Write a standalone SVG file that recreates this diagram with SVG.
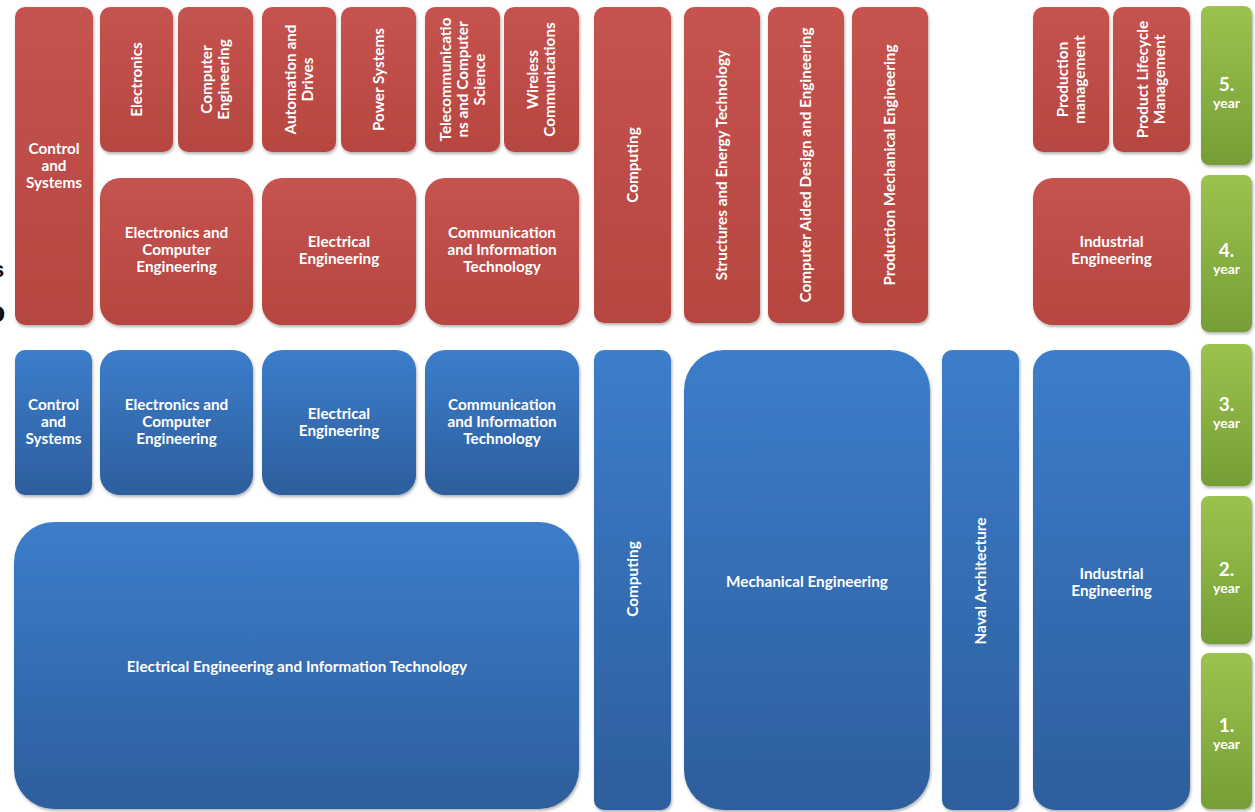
<svg xmlns="http://www.w3.org/2000/svg" width="1255" height="812" viewBox="0 0 1255 812">
  <defs>
    <linearGradient id="gRed" x1="0" y1="0" x2="0" y2="1">
      <stop offset="0" stop-color="#c6534f"/>
      <stop offset="1" stop-color="#b6463f"/>
    </linearGradient>
    <linearGradient id="gBlue" x1="0" y1="0" x2="0" y2="1">
      <stop offset="0" stop-color="#3c7dca"/>
      <stop offset="1" stop-color="#2d5e9d"/>
    </linearGradient>
    <linearGradient id="gGreen" x1="0" y1="0" x2="0" y2="1">
      <stop offset="0" stop-color="#9cc24f"/>
      <stop offset="1" stop-color="#769e36"/>
    </linearGradient>
    <filter id="sh" x="-10%" y="-10%" width="130%" height="130%">
      <feDropShadow dx="1" dy="2" stdDeviation="1.6" flood-color="#000" flood-opacity="0.3"/>
    </filter>
  </defs>
  <style>
    .r { fill: url(#gRed); filter: url(#sh); }
    .b { fill: url(#gBlue); filter: url(#sh); }
    .g { fill: url(#gGreen); filter: url(#sh); }
    text { font-family: Lato, "Liberation Sans", sans-serif; font-weight: 700; fill: #ffffff; text-anchor: middle; }
    .t { font-size: 15.3px; }
    .n { font-size: 19px; }
    .y { font-size: 14px; }
    .frag { fill: #111111; font-family: "Liberation Sans", Arial, sans-serif; text-anchor: start; }
  </style>

  <rect width="1255" height="812" fill="#ffffff"/>

  <!-- cut-off lettering at the left edge -->
  <text class="frag" x="-8" y="277" font-size="22">s</text>
  <text class="frag" x="-13" y="322" font-size="30">o</text>

  <!-- ===== upper years (4th and 5th) ===== -->
  <g id="ctrl-sys-upper">
    <rect class="r" x="15" y="7" width="78" height="318" rx="10"/>
    <text class="t" x="54"><tspan x="54" y="153.5">Control</tspan><tspan x="54" y="170.5">and</tspan><tspan x="54" y="187.5">Systems</tspan></text>
  </g>
  <g id="electronics">
    <rect class="r" x="100" y="7" width="73" height="145" rx="10"/>
    <text class="t" transform="translate(136.5 79.5) rotate(-90)"><tspan x="0" y="5">Electronics</tspan></text>
  </g>
  <g id="computer-eng">
    <rect class="r" x="178" y="7" width="75" height="145" rx="10"/>
    <text class="t" transform="translate(215.5 79.5) rotate(-90)"><tspan x="0" y="-3.5">Computer</tspan><tspan x="0" y="13.5">Engineering</tspan></text>
  </g>
  <g id="automation">
    <rect class="r" x="262" y="7" width="74" height="145" rx="10"/>
    <text class="t" transform="translate(299 79.5) rotate(-90)"><tspan x="0" y="-3.5">Automation and</tspan><tspan x="0" y="13.5">Drives</tspan></text>
  </g>
  <g id="power-systems">
    <rect class="r" x="341" y="7" width="75" height="145" rx="10"/>
    <text class="t" transform="translate(378.5 79.5) rotate(-90)"><tspan x="0" y="5">Power Systems</tspan></text>
  </g>
  <g id="telecom">
    <rect class="r" x="425" y="7" width="75" height="145" rx="10"/>
    <text class="t" transform="translate(462.5 79.5) rotate(-90)"><tspan x="0" y="-12">Telecommunicatio</tspan><tspan x="0" y="5">ns and Computer</tspan><tspan x="0" y="22">Science</tspan></text>
  </g>
  <g id="wireless">
    <rect class="r" x="504" y="7" width="75" height="145" rx="10"/>
    <text class="t" transform="translate(541.5 79.5) rotate(-90)"><tspan x="0" y="-3.5">Wireless</tspan><tspan x="0" y="13.5">Communications</tspan></text>
  </g>
  <g id="ece-upper">
    <rect class="r" x="100" y="178" width="153" height="147" rx="20"/>
    <text class="t"><tspan x="176.5" y="238">Electronics and</tspan><tspan x="176.5" y="255">Computer</tspan><tspan x="176.5" y="272">Engineering</tspan></text>
  </g>
  <g id="ee-upper">
    <rect class="r" x="262" y="178" width="154" height="147" rx="20"/>
    <text class="t"><tspan x="339" y="246.5">Electrical</tspan><tspan x="339" y="263.5">Engineering</tspan></text>
  </g>
  <g id="cit-upper">
    <rect class="r" x="425" y="178" width="154" height="147" rx="20"/>
    <text class="t"><tspan x="502" y="238">Communication</tspan><tspan x="502" y="255">and Information</tspan><tspan x="502" y="272">Technology</tspan></text>
  </g>
  <g id="computing-upper">
    <rect class="r" x="594" y="7" width="77" height="316" rx="10"/>
    <text class="t" transform="translate(632.5 165) rotate(-90)"><tspan x="0" y="5">Computing</tspan></text>
  </g>
  <g id="structures">
    <rect class="r" x="684" y="7" width="76" height="316" rx="10"/>
    <text class="t" transform="translate(722 165) rotate(-90)"><tspan x="0" y="5">Structures and Energy Technology</tspan></text>
  </g>
  <g id="cad">
    <rect class="r" x="768" y="7" width="76" height="316" rx="10"/>
    <text class="t" transform="translate(806 165) rotate(-90)"><tspan x="0" y="5">Computer Aided Design and Engineering</tspan></text>
  </g>
  <g id="production-mech">
    <rect class="r" x="852" y="7" width="76" height="316" rx="10"/>
    <text class="t" transform="translate(890 165) rotate(-90)"><tspan x="0" y="5">Production Mechanical Engineering</tspan></text>
  </g>
  <g id="production-mgmt">
    <rect class="r" x="1033" y="7" width="76" height="145" rx="10"/>
    <text class="t" transform="translate(1071 79.5) rotate(-90)"><tspan x="0" y="-3.5">Production</tspan><tspan x="0" y="13.5">management</tspan></text>
  </g>
  <g id="plm">
    <rect class="r" x="1113" y="7" width="77" height="145" rx="10"/>
    <text class="t" transform="translate(1151.5 79.5) rotate(-90)"><tspan x="0" y="-3.5">Product Lifecycle</tspan><tspan x="0" y="13.5">Management</tspan></text>
  </g>
  <g id="ie-upper">
    <rect class="r" x="1033" y="178" width="157" height="147" rx="20"/>
    <text class="t"><tspan x="1111.5" y="246.5">Industrial</tspan><tspan x="1111.5" y="263.5">Engineering</tspan></text>
  </g>

  <!-- ===== lower years (1st to 3rd) ===== -->
  <g id="ctrl-sys-lower">
    <rect class="b" x="15" y="350" width="77" height="145" rx="10"/>
    <text class="t"><tspan x="53.5" y="410">Control</tspan><tspan x="53.5" y="427">and</tspan><tspan x="53.5" y="444">Systems</tspan></text>
  </g>
  <g id="ece-lower">
    <rect class="b" x="100" y="350" width="153" height="145" rx="20"/>
    <text class="t"><tspan x="176.5" y="410">Electronics and</tspan><tspan x="176.5" y="427">Computer</tspan><tspan x="176.5" y="444">Engineering</tspan></text>
  </g>
  <g id="ee-lower">
    <rect class="b" x="262" y="350" width="154" height="145" rx="20"/>
    <text class="t"><tspan x="339" y="418.5">Electrical</tspan><tspan x="339" y="435.5">Engineering</tspan></text>
  </g>
  <g id="cit-lower">
    <rect class="b" x="425" y="350" width="154" height="145" rx="20"/>
    <text class="t"><tspan x="502" y="410">Communication</tspan><tspan x="502" y="427">and Information</tspan><tspan x="502" y="444">Technology</tspan></text>
  </g>
  <g id="eeit">
    <rect class="b" x="14" y="522" width="565" height="287" rx="40"/>
    <text class="t" x="297" y="672">Electrical Engineering and Information Technology</text>
  </g>
  <g id="computing-lower">
    <rect class="b" x="594" y="350" width="77" height="460" rx="10"/>
    <text class="t" transform="translate(632.5 579) rotate(-90)"><tspan x="0" y="5">Computing</tspan></text>
  </g>
  <g id="mechanical">
    <rect class="b" x="684" y="350" width="246" height="460" rx="40"/>
    <text class="t" x="807" y="587">Mechanical Engineering</text>
  </g>
  <g id="naval">
    <rect class="b" x="942" y="350" width="77" height="460" rx="10"/>
    <text class="t" transform="translate(980.5 581) rotate(-90)"><tspan x="0" y="5">Naval Architecture</tspan></text>
  </g>
  <g id="ie-lower">
    <rect class="b" x="1033" y="350" width="157" height="460" rx="22"/>
    <text class="t"><tspan x="1111.5" y="579">Industrial</tspan><tspan x="1111.5" y="596">Engineering</tspan></text>
  </g>

  <!-- ===== year column ===== -->
  <g id="year5">
    <rect class="g" x="1201" y="6" width="51" height="159" rx="8"/>
    <text class="n" x="1226.5" y="91">5.</text>
    <text class="y" x="1226.5" y="108">year</text>
  </g>
  <g id="year4">
    <rect class="g" x="1201" y="175" width="51" height="157" rx="8"/>
    <text class="n" x="1226.5" y="257">4.</text>
    <text class="y" x="1226.5" y="274">year</text>
  </g>
  <g id="year3">
    <rect class="g" x="1201" y="344" width="51" height="142" rx="8"/>
    <text class="n" x="1226.5" y="411">3.</text>
    <text class="y" x="1226.5" y="428">year</text>
  </g>
  <g id="year2">
    <rect class="g" x="1201" y="496" width="51" height="148" rx="8"/>
    <text class="n" x="1226.5" y="576">2.</text>
    <text class="y" x="1226.5" y="593">year</text>
  </g>
  <g id="year1">
    <rect class="g" x="1201" y="653" width="51" height="156" rx="8"/>
    <text class="n" x="1226.5" y="732">1.</text>
    <text class="y" x="1226.5" y="749">year</text>
  </g>
</svg>
